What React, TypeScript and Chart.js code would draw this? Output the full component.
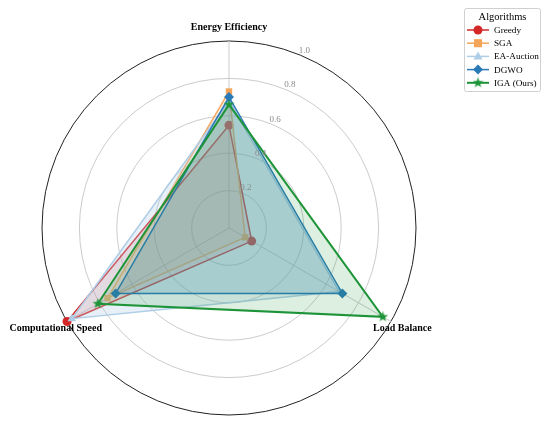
import React, { useEffect, useRef } from "react";
import { Chart, registerables } from "chart.js";

Chart.register(...registerables);

const axisLabels = ["Energy Efficiency", "Load Balance", "Computational Speed"];
const seriesNames = ["Greedy", "SGA", "EA-Auction", "DGWO", "IGA (Ours)"];
const greedy = [0.55, 0.14, 1.0];
const sga = [0.73, 0.1, 0.75];
const eaAuction = [0.68, 0.68, 0.97];
const dgwo = [0.7, 0.7, 0.7];
const iga = [0.66, 0.95, 0.81];
const tickValues = [0.2, 0.4, 0.6, 0.8, 1.0];
const tickLabels = ["0.2", "0.4", "0.6", "0.8", "1.0"];
const legendTitle = "Algorithms";

const colors = ["#d62728", "#f5a55a", "#aecde6", "#2a7ab8", "#1e9438"];
const fills = [
  "rgba(214,39,40,0.15)",
  "rgba(245,165,90,0.18)",
  "rgba(174,205,230,0.3)",
  "rgba(42,122,184,0.2)",
  "rgba(30,148,56,0.15)",
];
const SERIF = "'Liberation Serif', 'Times New Roman', serif";

function makeStar(color: string, size: number): HTMLCanvasElement {
  const c = document.createElement("canvas");
  c.width = size;
  c.height = size;
  const g = c.getContext("2d")!;
  const cx = size / 2, cy = size / 2, R = size / 2, r = R * 0.42;
  g.beginPath();
  for (let i = 0; i < 10; i++) {
    const a = -Math.PI / 2 + (i * Math.PI) / 5;
    const rr = i % 2 === 0 ? R : r;
    const x = cx + rr * Math.cos(a), y = cy + rr * Math.sin(a);
    if (i === 0) g.moveTo(x, y); else g.lineTo(x, y);
  }
  g.closePath();
  g.fillStyle = color;
  g.fill();
  return c;
}

export default function App() {
  const ref = useRef<HTMLCanvasElement | null>(null);
  useEffect(() => {
    const canvas = ref.current!;
    const star = makeStar(colors[4], 11);
    const styles: any[] = ["circle", "rect", "triangle", "rectRot", star];
    const radii = [4.5, 4.5, 5, 5, 5.5];
    const values = [greedy, sga, eaAuction, dgwo, iga];

    const drawMarker = (g: CanvasRenderingContext2D, i: number, x: number, y: number) => {
      const c = colors[i];
      g.save();
      g.fillStyle = c;
      const r = radii[i];
      if (i === 0) {
        g.beginPath(); g.arc(x, y, r, 0, Math.PI * 2); g.fill();
      } else if (i === 1) {
        g.fillRect(x - r * 0.9, y - r * 0.9, r * 1.8, r * 1.8);
      } else if (i === 2) {
        g.beginPath(); g.moveTo(x, y - r); g.lineTo(x + r * 0.9, y + r * 0.6); g.lineTo(x - r * 0.9, y + r * 0.6); g.closePath(); g.fill();
      } else if (i === 3) {
        g.beginPath(); g.moveTo(x, y - r); g.lineTo(x + r, y); g.lineTo(x, y + r); g.lineTo(x - r, y); g.closePath(); g.fill();
      } else {
        g.drawImage(star, x - star.width / 2, y - star.height / 2);
      }
      g.restore();
    };

    const overlay = {
      id: "overlay",
      beforeDraw(chart: any) {
        const g = chart.ctx as CanvasRenderingContext2D;
        g.save();
        g.fillStyle = "#ffffff";
        g.fillRect(0, 0, chart.width, chart.height);
        g.restore();
      },
      afterDraw(chart: any) {
        const g = chart.ctx as CanvasRenderingContext2D;
        const s = chart.scales.r;
        // point labels
        g.save();
        g.fillStyle = "#000";
        g.font = `bold 10px ${SERIF}`;
        g.textAlign = "center";
        g.textBaseline = "middle";
        axisLabels.forEach((lab, i) => {
          const p = s.getPointPosition(i, s.drawingArea * 1.07);
          g.fillText(lab, p.x, p.y);
        });
        // tick labels
        g.fillStyle = "#8a8a8a";
        g.font = `9px ${SERIF}`;
        const ang = (23 * Math.PI) / 180;
        tickValues.forEach((v, i) => {
          const r = s.getDistanceFromCenterForValue(v) + 6;
          g.fillText(tickLabels[i], s.xCenter + r * Math.sin(ang), s.yCenter - r * Math.cos(ang));
        });
        g.restore();
        // legend
        g.save();
        const bx = 464.5, by = 8.5, bw = 76, bh = 83;
        g.fillStyle = "rgba(255,255,255,0.85)";
        g.beginPath();
        if ((g as any).roundRect) (g as any).roundRect(bx, by, bw, bh, 2); else g.rect(bx, by, bw, bh);
        g.fill();
        g.strokeStyle = "#d0d0d0";
        g.lineWidth = 1;
        g.stroke();
        g.fillStyle = "#000";
        g.font = `10.5px ${SERIF}`;
        g.textAlign = "center";
        g.textBaseline = "middle";
        g.fillText(legendTitle, bx + bw / 2, 17);
        g.font = `9.2px ${SERIF}`;
        g.textAlign = "left";
        seriesNames.forEach((name, i) => {
          const y = 30 + i * 13.2;
          g.strokeStyle = colors[i];
          g.lineWidth = i === 4 ? 2 : 1.5;
          g.beginPath(); g.moveTo(467, y); g.lineTo(489, y); g.stroke();
          drawMarker(g, i, 478, y);
          g.fillStyle = "#000";
          g.fillText(name, 494, y + 0.5);
        });
        g.restore();
      },
    };

    const datasets = seriesNames.map((name, i) => ({
      label: name,
      data: values[i],
      borderColor: colors[i],
      backgroundColor: fills[i],
      borderWidth: i === 4 ? 2 : 1.5,
      fill: true,
      pointStyle: styles[i],
      pointRadius: radii[i],
      pointBackgroundColor: colors[i],
      pointBorderColor: colors[i],
      pointBorderWidth: 0,
      order: 4 - i,
    }));

    const chart = new Chart(canvas, {
      type: "radar",
      data: { labels: axisLabels, datasets },
      options: {
        responsive: false,
        animation: false,
        devicePixelRatio: 1,
        layout: { padding: { left: 42, right: 134, top: 41, bottom: 11 } },
        plugins: { legend: { display: false }, tooltip: { enabled: false } },
        elements: { line: { tension: 0 } },
        scales: {
          r: {
            min: 0,
            max: 1,
            ticks: { stepSize: 0.2, display: false },
            pointLabels: { display: false },
            angleLines: { color: "#cccccc", lineWidth: 1 },
            grid: {
              circular: true,
              color: (ctx: any) => (ctx.tick && Math.abs(ctx.tick.value - 1) < 1e-6 ? "#222222" : "#cccccc"),
              lineWidth: 1,
            },
          },
        },
      },
      plugins: [overlay],
    });
    return () => chart.destroy();
  }, []);

  return (
    <div style={{ position: "fixed", left: 0, top: 0, width: 550, height: 426, background: "#fff" }}>
      <canvas ref={ref} width={550} height={426} />
    </div>
  );
}
